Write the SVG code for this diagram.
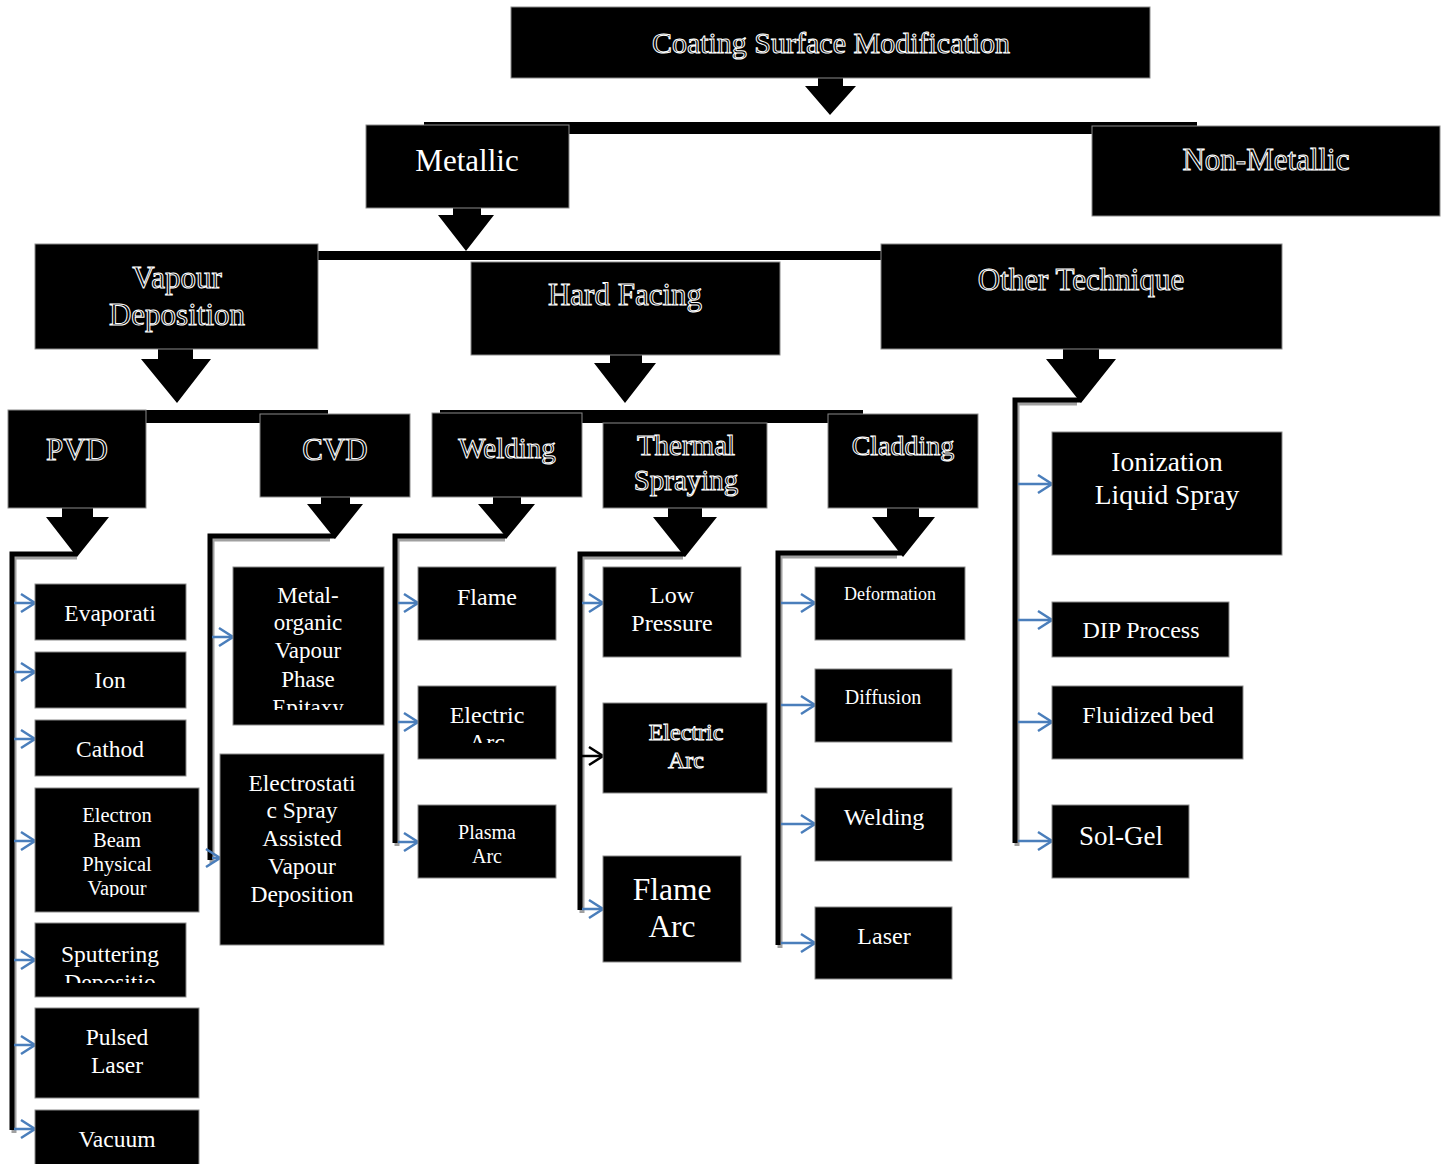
<svg xmlns="http://www.w3.org/2000/svg" width="1447" height="1164" viewBox="0 0 1447 1164">
<style>
.box{fill:#000;stroke:#8a8a8a;stroke-width:1}
.hd{font-family:"Liberation Serif",serif;fill:#000;stroke:#fff;stroke-width:1;text-anchor:middle}
.tx{font-family:"Liberation Serif",serif;fill:#fff;text-anchor:middle}
.bar{fill:#000}
.ln{fill:none;stroke:#000;stroke-width:5}
.sh{fill:none;stroke:#a0a0a0;stroke-width:5}
.ba{fill:none;stroke:#4a7ebb;stroke-width:2.5}
.ka{fill:none;stroke:#000;stroke-width:2.5}
</style>
<defs>
<marker id="mb" markerWidth="18" markerHeight="22" refX="16" refY="11" orient="auto" markerUnits="userSpaceOnUse"><path d="M2,2 L16,11 L2,20" fill="none" stroke="#4a7ebb" stroke-width="2.5"/></marker>
<marker id="mk" markerWidth="18" markerHeight="22" refX="16" refY="11" orient="auto" markerUnits="userSpaceOnUse"><path d="M2,2 L16,11 L2,20" fill="none" stroke="#000" stroke-width="2.5"/></marker>
<clipPath id="c-mo"><rect x="233" y="567" width="151" height="143"/></clipPath>
<clipPath id="c-sp"><rect x="35" y="923" width="151" height="60"/></clipPath>
<clipPath id="c-ea"><rect x="418" y="686" width="138" height="57"/></clipPath>
<clipPath id="c-eb"><rect x="35" y="788" width="164" height="109"/></clipPath>
</defs>

<g id="connectors">
<rect class="bar" x="424" y="122" width="773" height="12"/>
<rect class="bar" x="318" y="251" width="563" height="9"/>
<rect class="bar" x="12" y="410" width="316" height="13"/>
<rect class="bar" x="440" y="410" width="423" height="13"/>
<path class="bar" d="M818,78 H843 V86 H856 L830,115 L805,86 H818 Z"/>
<path class="bar" d="M453,208 H481 V215 H494 L466,251 L438,215 H453 Z"/>
<path class="bar" d="M158,349 H193 V359 H211 L177,403 L141,359 H158 Z"/>
<path class="bar" d="M610,355 H642 V363 H656 L625,403 L594,363 H610 Z"/>
<path class="bar" d="M1063,349 H1099 V359 H1116 L1081,403 L1046,359 H1063 Z"/>
<path class="bar" d="M62,508 H93 V517 H109 L77,557 L46,517 H62 Z"/>
<path class="bar" d="M321,497 H350 V504 H363 L335,539 L307,504 H321 Z"/>
<path class="bar" d="M493,497 H521 V504 H535 L507,538 L478,504 H493 Z"/>
<path class="bar" d="M668,508 H702 V517 H717 L685,557 L653,517 H668 Z"/>
<path class="bar" d="M887,508 H919 V517 H935 L903,557 L872,517 H887 Z"/>
<path class="sh" d="M77,557 H14 V1133"/>
<path class="ln" d="M77,554 H12 V1130"/>
<path class="sh" d="M330,539 H212 V863"/>
<path class="ln" d="M335,536 H210 V860"/>
<path class="sh" d="M505,539 H397 V846"/>
<path class="ln" d="M507,536 H395 V843"/>
<path class="sh" d="M683,557 H582 V913"/>
<path class="ln" d="M685,554 H580 V910"/>
<path class="sh" d="M897,556 H780 V948"/>
<path class="ln" d="M903,553 H778 V945"/>
<path class="sh" d="M1077,403 H1017 V846"/>
<path class="ln" d="M1081,400 H1015 V843"/>
<path class="ba" marker-end="url(#mb)" d="M14,603 H35"/>
<path class="ba" marker-end="url(#mb)" d="M14,672 H35"/>
<path class="ba" marker-end="url(#mb)" d="M14,739 H35"/>
<path class="ba" marker-end="url(#mb)" d="M14,841 H35"/>
<path class="ba" marker-end="url(#mb)" d="M14,960 H35"/>
<path class="ba" marker-end="url(#mb)" d="M14,1045 H35"/>
<path class="ba" marker-end="url(#mb)" d="M14,1129 H35"/>
<path class="ba" marker-end="url(#mb)" d="M212,637 H233"/>
<path class="ba" marker-end="url(#mb)" d="M212,858 H220"/>
<path class="ba" marker-end="url(#mb)" d="M398,603 H418"/>
<path class="ba" marker-end="url(#mb)" d="M398,722 H418"/>
<path class="ba" marker-end="url(#mb)" d="M398,842 H418"/>
<path class="ba" marker-end="url(#mb)" d="M582,603 H603"/>
<path class="ka" marker-end="url(#mk)" d="M582,756 H603"/>
<path class="ba" marker-end="url(#mb)" d="M582,909 H603"/>
<path class="ba" marker-end="url(#mb)" d="M781,603 H815"/>
<path class="ba" marker-end="url(#mb)" d="M781,705 H815"/>
<path class="ba" marker-end="url(#mb)" d="M781,824 H815"/>
<path class="ba" marker-end="url(#mb)" d="M781,943 H815"/>
<path class="ba" marker-end="url(#mb)" d="M1018,484 H1052"/>
<path class="ba" marker-end="url(#mb)" d="M1018,620 H1052"/>
<path class="ba" marker-end="url(#mb)" d="M1018,722 H1052"/>
<path class="ba" marker-end="url(#mb)" d="M1018,841 H1052"/>
</g>

<g id="n-coating"><rect class="box" x="511" y="7" width="639" height="71"/><text class="hd" x="831" y="53" font-size="30">Coating Surface Modification</text></g>
<g id="n-metallic"><rect class="box" x="366" y="125" width="203" height="83"/><text class="tx" x="467" y="171" font-size="31">Metallic</text></g>
<g id="n-nonmetallic"><rect class="box" x="1092" y="126" width="348" height="90"/><text class="hd" x="1266" y="170" font-size="31">Non-Metallic</text></g>
<g id="n-vapour"><rect class="box" x="35" y="244" width="283" height="105"/><text class="hd" x="177" y="288" font-size="31">Vapour</text><text class="hd" x="177" y="325" font-size="31">Deposition</text></g>
<g id="n-hardfacing"><rect class="box" x="471" y="262" width="309" height="93"/><text class="hd" x="625" y="305" font-size="31">Hard Facing</text></g>
<g id="n-other"><rect class="box" x="881" y="244" width="401" height="105"/><text class="hd" x="1081" y="290" font-size="31">Other Technique</text></g>
<g id="n-pvd"><rect class="box" x="8" y="410" width="138" height="98"/><text class="hd" x="77" y="460" font-size="31">PVD</text></g>
<g id="n-cvd"><rect class="box" x="260" y="414" width="150" height="83"/><text class="hd" x="335" y="460" font-size="31">CVD</text></g>
<g id="n-welding"><rect class="box" x="432" y="413" width="150" height="84"/><text class="hd" x="507" y="458" font-size="29">Welding</text></g>
<g id="n-thermal"><rect class="box" x="603" y="423" width="164" height="85"/><text class="hd" x="686" y="455" font-size="29">Thermal</text><text class="hd" x="686" y="490" font-size="29">Spraying</text></g>
<g id="n-cladding"><rect class="box" x="828" y="414" width="150" height="94"/><text class="hd" x="903" y="455" font-size="28">Cladding</text></g>

<g id="n-evaporati"><rect class="box" x="35" y="584" width="151" height="56"/><text class="tx" x="110" y="621" font-size="23.5">Evaporati</text></g>
<g id="n-ion"><rect class="box" x="35" y="652" width="151" height="56"/><text class="tx" x="110" y="688" font-size="23.5">Ion</text></g>
<g id="n-cathod"><rect class="box" x="35" y="720" width="151" height="56"/><text class="tx" x="110" y="757" font-size="23.5">Cathod</text></g>
<g id="n-ebeam"><rect class="box" x="35" y="788" width="164" height="124"/><g clip-path="url(#c-eb)"><text class="tx" x="117" y="822" font-size="20.5">Electron</text><text class="tx" x="117" y="847" font-size="20.5">Beam</text><text class="tx" x="117" y="871" font-size="20.5">Physical</text><text class="tx" x="117" y="895" font-size="20.5">Vapour</text></g></g>
<g id="n-sputtering"><rect class="box" x="35" y="923" width="151" height="74"/><g clip-path="url(#c-sp)"><text class="tx" x="110" y="962" font-size="23.5">Sputtering</text><text class="tx" x="110" y="990" font-size="23.5">Depositio</text></g></g>
<g id="n-pulsed"><rect class="box" x="35" y="1008" width="164" height="90"/><text class="tx" x="117" y="1045" font-size="23.5">Pulsed</text><text class="tx" x="117" y="1073" font-size="23.5">Laser</text></g>
<g id="n-vacuum"><rect class="box" x="35" y="1110" width="164" height="60"/><text class="tx" x="117" y="1147" font-size="23.5">Vacuum</text></g>

<g id="n-metalorganic"><rect class="box" x="233" y="567" width="151" height="158"/><g clip-path="url(#c-mo)"><text class="tx" x="308" y="603" font-size="23">Metal-</text><text class="tx" x="308" y="630" font-size="23">organic</text><text class="tx" x="308" y="658" font-size="23">Vapour</text><text class="tx" x="308" y="687" font-size="23">Phase</text><text class="tx" x="308" y="715" font-size="23">Epitaxy</text></g></g>
<g id="n-electrostatic"><rect class="box" x="220" y="754" width="164" height="191"/><text class="tx" x="302" y="791" font-size="23.5">Electrostati</text><text class="tx" x="302" y="818" font-size="23.5">c Spray</text><text class="tx" x="302" y="846" font-size="23.5">Assisted</text><text class="tx" x="302" y="874" font-size="23.5">Vapour</text><text class="tx" x="302" y="902" font-size="23.5">Deposition</text></g>

<g id="n-flame"><rect class="box" x="418" y="567" width="138" height="73"/><text class="tx" x="487" y="605" font-size="24">Flame</text></g>
<g id="n-electricarc1"><rect class="box" x="418" y="686" width="138" height="73"/><g clip-path="url(#c-ea)"><text class="tx" x="487" y="723" font-size="24">Electric</text><text class="tx" x="487" y="750" font-size="24">Arc</text></g></g>
<g id="n-plasmaarc"><rect class="box" x="418" y="805" width="138" height="73"/><text class="tx" x="487" y="839" font-size="20">Plasma</text><text class="tx" x="487" y="863" font-size="20">Arc</text></g>

<g id="n-lowpressure"><rect class="box" x="603" y="567" width="138" height="90"/><text class="tx" x="672" y="603" font-size="24">Low</text><text class="tx" x="672" y="631" font-size="24">Pressure</text></g>
<g id="n-electricarc2"><rect class="box" x="603" y="703" width="164" height="90"/><text class="hd" x="686" y="740" font-size="24">Electric</text><text class="hd" x="686" y="768" font-size="24">Arc</text></g>
<g id="n-flamearc"><rect class="box" x="603" y="856" width="138" height="106"/><text class="tx" x="672" y="900" font-size="31.5">Flame</text><text class="tx" x="672" y="937" font-size="31.5">Arc</text></g>

<g id="n-deformation"><rect class="box" x="815" y="567" width="150" height="73"/><text class="tx" x="890" y="600" font-size="18">Deformation</text></g>
<g id="n-diffusion"><rect class="box" x="815" y="669" width="137" height="73"/><text class="tx" x="883" y="704" font-size="20">Diffusion</text></g>
<g id="n-welding2"><rect class="box" x="815" y="788" width="137" height="73"/><text class="tx" x="884" y="825" font-size="24">Welding</text></g>
<g id="n-laser"><rect class="box" x="815" y="907" width="137" height="72"/><text class="tx" x="884" y="944" font-size="24">Laser</text></g>

<g id="n-ionization"><rect class="box" x="1052" y="432" width="230" height="123"/><text class="tx" x="1167" y="471" font-size="27.5">Ionization</text><text class="tx" x="1167" y="504" font-size="27.5">Liquid Spray</text></g>
<g id="n-dip"><rect class="box" x="1052" y="602" width="177" height="55"/><text class="tx" x="1141" y="638" font-size="24">DIP Process</text></g>
<g id="n-fluidized"><rect class="box" x="1052" y="686" width="191" height="73"/><text class="tx" x="1148" y="723" font-size="24">Fluidized bed</text></g>
<g id="n-solgel"><rect class="box" x="1052" y="805" width="137" height="73"/><text class="tx" x="1121" y="845" font-size="27">Sol-Gel</text></g>
</svg>
